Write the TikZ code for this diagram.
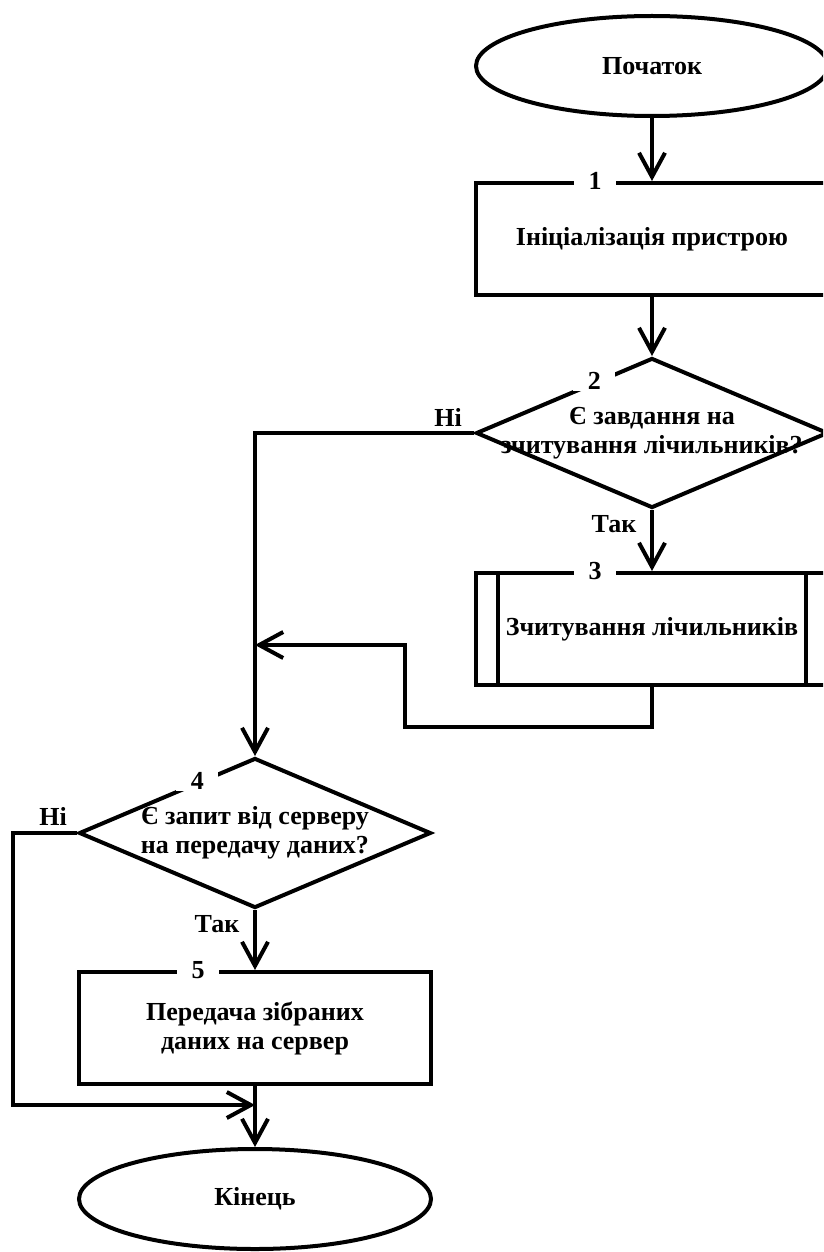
\documentclass[tikz,border=0pt]{standalone}
\usepackage{fontspec}
\setmainfont{Liberation Serif}
\usetikzlibrary{shapes.geometric, arrows.meta, calc}

\begin{document}
\begin{tikzpicture}[x=1pt, y=-1pt,
  every node/.style={font=\fontsize{26}{29}\selectfont\bfseries},
  ln/.style={line width=4pt, line join=miter},
  arr/.style={ln, -{Straight Barb[length=24pt, width=26pt]}},
  procbox/.style={draw, ln, rectangle, align=center,
    minimum width=352pt, minimum height=112pt, inner sep=0pt},
  term/.style={draw, ln, ellipse,
    minimum width=352pt, minimum height=100pt, inner sep=0pt},
  decide/.style={draw, ln, diamond,
    minimum width=352pt, minimum height=150pt, inner sep=0pt},
  numlbl/.style={fill=white, inner xsep=0pt, inner ysep=1pt, minimum width=42pt},
  lbl/.style={inner sep=0pt}]

  % page frame
  \useasboundingbox (0,0) rectangle (823,1252);
  \fill[white] (0,0) rectangle (823,1252);
  \clip (0,0) rectangle (823,1252);

  % blocks
  \node[term] (s) at (652,66) {Початок};
  \node[procbox] (b1) at (652,239) {Ініціалізація пристрою};
  \node[decide] (d2) at (652,433) {};
  \node[align=center, inner sep=0pt] (q2) at (d2.center) {Є завдання на\\зчитування лічильників?};
  \node[procbox] (b3) at (652,629) {Зчитування лічильників};
  \draw[ln] ([xshift=24pt]b3.north west) -- ([xshift=24pt]b3.south west);
  \draw[ln] ([xshift=-24pt]b3.north east) -- ([xshift=-24pt]b3.south east);
  \node[decide] (d4) at (255,833) {};
  \node[align=center, inner sep=0pt] (q4) at (d4.center) {Є запит від серверу\\на передачу даних?};
  \node[procbox] (b5) at (255,1028) {Передача зібраних\\даних на сервер};
  \node[term] (e) at (255,1199) {Кінець};

  % block numbers set into the outlines
  \node[numlbl] (n1) at ([xshift=-57pt]b1.north) {1};
  \node[numlbl] (n3) at ([xshift=-57pt]b3.north) {3};
  \node[numlbl] (n5) at ([xshift=-57pt]b5.north) {5};
  \node[numlbl] (n2) at ($(d2.west)!0.676!(d2.north)$) {2};
  \node[numlbl] (n4) at ($(d4.west)!0.676!(d4.north)$) {4};

  % branch labels
  \node[lbl] (y2) at ([xshift=-38pt, yshift=-14pt]d2.south) {Так};
  \node[lbl] (no2) at ([xshift=-26pt, yshift=16pt]d2.west) {Ні};
  \node[lbl] (y4) at ([xshift=-38pt, yshift=-14pt]d4.south) {Так};
  \node[lbl] (no4) at ([xshift=-24pt, yshift=17pt]d4.west) {Ні};

  % junction points
  \coordinate (lp1) at (405,727);
  \coordinate (j1) at (255,645);
  \coordinate (c1) at (13,1105);
  \coordinate (j2) at (255,1105);

  % flow lines
  \draw[arr] (s) -- (b1);
  \draw[arr] (b1) -- (d2);
  \draw[arr] (d2.south) -- (b3.north);
  \draw[arr] (d2.west) -| (d4.north);
  \draw[arr] (b3.south) |- (lp1) |- (j1);
  \draw[arr] (d4.south) -- (b5.north);
  \draw[arr] (d4.west) -| (c1) -- (j2);
  \draw[arr] (b5.south) -- (e.north);
\end{tikzpicture}
\end{document}
